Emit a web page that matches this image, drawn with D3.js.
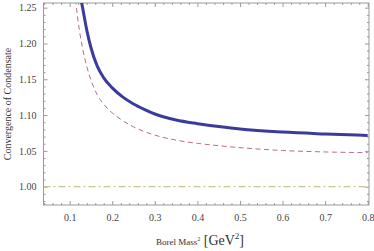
<!DOCTYPE html>
<html>
<head>
<meta charset="utf-8">
<script src="https://cdn.jsdelivr.net/npm/d3@7"></script>
<style>
  body { margin: 0; background: #fff; }
  svg { display: block; }
  .tick text { font-family: "Liberation Serif", "Times New Roman", serif; font-size: 10px; fill: #444; }
  .tick line { stroke: #999; }
</style>
</head>
<body>
<svg width="374" height="251"></svg>
<script>
// Borel mass squared (GeV^2) and convergence ratio
const massFull = [0.12, 0.13, 0.14, 0.15, 0.165, 0.18, 0.2, 0.225, 0.25, 0.275, 0.3, 0.35, 0.4, 0.45, 0.5, 0.6, 0.7, 0.8];
const convFull = [1.28, 1.251, 1.219, 1.194, 1.168, 1.152, 1.138, 1.125, 1.1155, 1.108, 1.1015, 1.093, 1.088, 1.084, 1.0805, 1.0762, 1.0736, 1.0715];

const massPart = [0.11, 0.115, 0.12, 0.13, 0.14, 0.15, 0.165, 0.18, 0.2, 0.225, 0.25, 0.275, 0.3, 0.35, 0.4, 0.45, 0.5, 0.6, 0.7, 0.8];
const convPart = [1.285, 1.254, 1.23, 1.194, 1.168, 1.149, 1.128, 1.115, 1.103, 1.092, 1.0835, 1.077, 1.072, 1.065, 1.0605, 1.0572, 1.0545, 1.0505, 1.0485, 1.0475];

const refLevel = 1.0;

const xTicks = [0.1, 0.2, 0.3, 0.4, 0.5, 0.6, 0.7, 0.8];
const yTicks = [1.00, 1.05, 1.10, 1.15, 1.20, 1.25];

const svg = d3.select('svg');
const margin = {top: 3, right: 5, bottom: 46, left: 43.5};
const W = 374, H = 251;

const x = d3.scaleLinear().domain([0.0385, 0.803]).range([margin.left, W - margin.right]);
const y = d3.scaleLinear().domain([0.9744, 1.2565]).range([H - margin.bottom, margin.top]);

const xMinor = d3.range(0.04, 0.805, 0.02).filter(v => !xTicks.some(t => Math.abs(t - v) < 1e-6));
const yMinor = d3.range(0.98, 1.256, 0.01).filter(v => !yTicks.some(t => Math.abs(t - v) < 1e-6));

svg.append('defs').append('clipPath').attr('id', 'clip')
  .append('rect')
    .attr('x', x.range()[0]).attr('y', y.range()[1])
    .attr('width', x.range()[1] - x.range()[0])
    .attr('height', y.range()[0] - y.range()[1]);

function addAxis(axis, transform) {
  const g = svg.append('g').attr('transform', transform).call(axis);
  g.select('.domain').remove();
  return g;
}

const yb = y.range()[0], yt = y.range()[1], xl = x.range()[0], xr = x.range()[1];

// major + minor ticks on all four sides, pointing inward
addAxis(d3.axisBottom(x).tickValues(xTicks).tickSize(-4).tickPadding(9).tickFormat(d3.format('.1f')), `translate(0,${yb})`);
addAxis(d3.axisBottom(x).tickValues(xMinor).tickSize(-2).tickFormat(''), `translate(0,${yb})`);
addAxis(d3.axisTop(x).tickValues(xTicks).tickSize(-4).tickFormat(''), `translate(0,${yt})`);
addAxis(d3.axisTop(x).tickValues(xMinor).tickSize(-2).tickFormat(''), `translate(0,${yt})`);
addAxis(d3.axisLeft(y).tickValues(yTicks).tickSize(-4).tickPadding(7).tickFormat(d3.format('.2f')), `translate(${xl},0)`);
addAxis(d3.axisLeft(y).tickValues(yMinor).tickSize(-2).tickFormat(''), `translate(${xl},0)`);
addAxis(d3.axisRight(y).tickValues(yTicks).tickSize(-4).tickFormat(''), `translate(${xr},0)`);
addAxis(d3.axisRight(y).tickValues(yMinor).tickSize(-2).tickFormat(''), `translate(${xr},0)`);

svg.append('rect')
  .attr('x', xl).attr('y', yt)
  .attr('width', xr - xl).attr('height', yb - yt)
  .attr('fill', 'none').attr('stroke', '#999').attr('stroke-width', 1);

const plot = svg.append('g').attr('clip-path', 'url(#clip)');

plot.append('line')
  .attr('x1', xl).attr('x2', xr)
  .attr('y1', y(refLevel)).attr('y2', y(refLevel))
  .attr('stroke', '#cdc395').attr('stroke-width', 1.3)
  .attr('stroke-dasharray', '7,3,2,3');

const line = d3.line().curve(d3.curveMonotoneX);

plot.append('path')
  .attr('d', line(massPart.map((m, i) => [x(m), y(convPart[i])])))
  .attr('fill', 'none').attr('stroke', '#b56a96').attr('stroke-width', 1)
  .attr('stroke-dasharray', '5,3.5');

plot.append('path')
  .attr('d', line(massFull.map((m, i) => [x(m), y(convFull[i])])))
  .attr('fill', 'none').attr('stroke', '#3b3b9b').attr('stroke-width', 3);

// axis titles
svg.append('text')
  .attr('transform', `translate(11,${(yt + yb) / 2}) rotate(-90)`)
  .attr('text-anchor', 'middle')
  .style('font-family', '"Liberation Serif", serif').style('font-size', '10px').style('fill', '#333')
  .text('Convergence of Condensate');

const xt = svg.append('text')
  .attr('x', 200).attr('y', 245)
  .attr('text-anchor', 'middle')
  .style('font-family', '"Liberation Serif", serif').style('fill', '#333');
xt.append('tspan').style('font-size', '9px').text('Borel Mass');
xt.append('tspan').style('font-size', '6px').attr('dy', -4).text('2');
xt.append('tspan').style('font-size', '14px').attr('dy', 4).text('  [GeV');
xt.append('tspan').style('font-size', '9px').attr('dy', -6).text('2');
xt.append('tspan').style('font-size', '14px').attr('dy', 6).text(']');
</script>
</body>
</html>
